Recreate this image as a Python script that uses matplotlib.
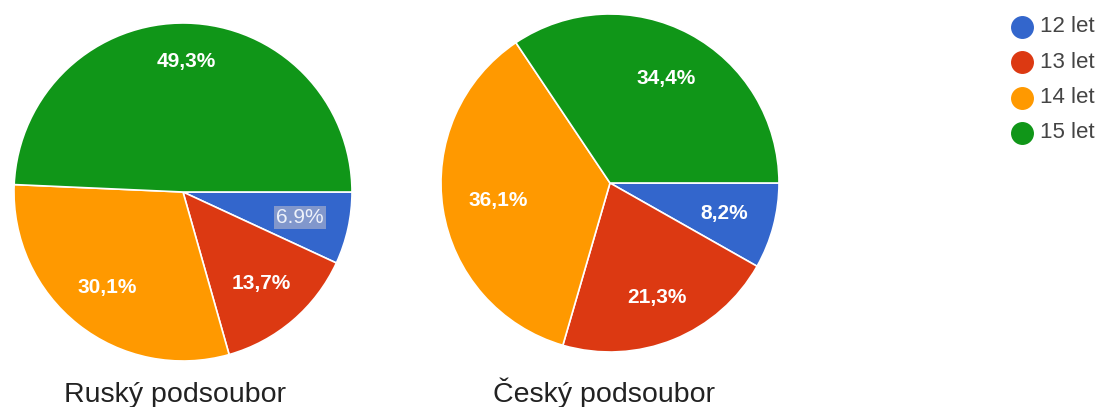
import numpy as np
import matplotlib.pyplot as plt
from matplotlib.lines import Line2D

plt.rcParams['font.family'] = ['Liberation Sans', 'DejaVu Sans']

vekove_skupiny = ["12 let", "13 let", "14 let", "15 let"]
rusky = [6.9, 13.7, 30.1, 49.3]
cesky = [8.2, 21.3, 36.1, 34.4]
rusky_popisky = ["6.9%", "13,7%", "30,1%", "49,3%"]
cesky_popisky = ["8,2%", "21,3%", "36,1%", "34,4%"]
nazvy = ["Ruský podsoubor", "Český podsoubor"]

barvy = ["#3366CC", "#DC3912", "#FF9900", "#109618"]

W, H = 1102, 407
fig = plt.figure(figsize=(W / 100, H / 100), dpi=100)


def kolac(cx, cy, r, hodnoty, popisky, vzdal):
    ax = fig.add_axes([(cx - r) / W, (H - cy - r) / H, 2 * r / W, 2 * r / H])
    wedges, _ = ax.pie(hodnoty, colors=barvy, startangle=0, counterclock=False,
                       radius=1, wedgeprops=dict(edgecolor="white", linewidth=1.2))
    # popisky uvnitr vysecí
    for w, txt, d in zip(wedges, popisky, vzdal):
        a = np.deg2rad((w.theta1 + w.theta2) / 2)
        ax.text(d * np.cos(a), d * np.sin(a), txt, ha="center", va="center",
                color="white", fontsize=15, fontweight="bold")
    ax.set_xlim(-1, 1)
    ax.set_ylim(-1, 1)
    ax.set_aspect("equal")
    ax.axis("off")
    return ax


ax1 = kolac(183, 192, 169, rusky, rusky_popisky, [0.71, 0.71, 0.72, 0.77])
ax2 = kolac(610, 183, 169, cesky, cesky_popisky, [0.70, 0.73, 0.67, 0.70])

# zvyrazneny popisek 6.9%
for t in ax1.texts:
    if t.get_text() == "6.9%":
        t.set_fontweight("normal")
        t.set_color("#EEF2FA")
        t.set_bbox(dict(facecolor="#8197CC", edgecolor="none", pad=1.5))

fig.text(175 / W, 1 - 402 / H, nazvy[0], ha="center", va="baseline",
         fontsize=20.5, color="#222222")
fig.text(604 / W, 1 - 402 / H, nazvy[1], ha="center", va="baseline",
         fontsize=20.5, color="#222222")

for i, (lab, c) in enumerate(zip(vekove_skupiny, barvy)):
    y = 27 + 35.3 * i
    fig.add_artist(Line2D([1022 / W], [1 - y / H], marker="o", markersize=15.5,
                          color=c, linestyle="none"))
    fig.text(1040 / W, 1 - y / H, lab, ha="left", va="center",
             fontsize=16, color="#444444")

fig.savefig("out.png", dpi=100, facecolor="white")
